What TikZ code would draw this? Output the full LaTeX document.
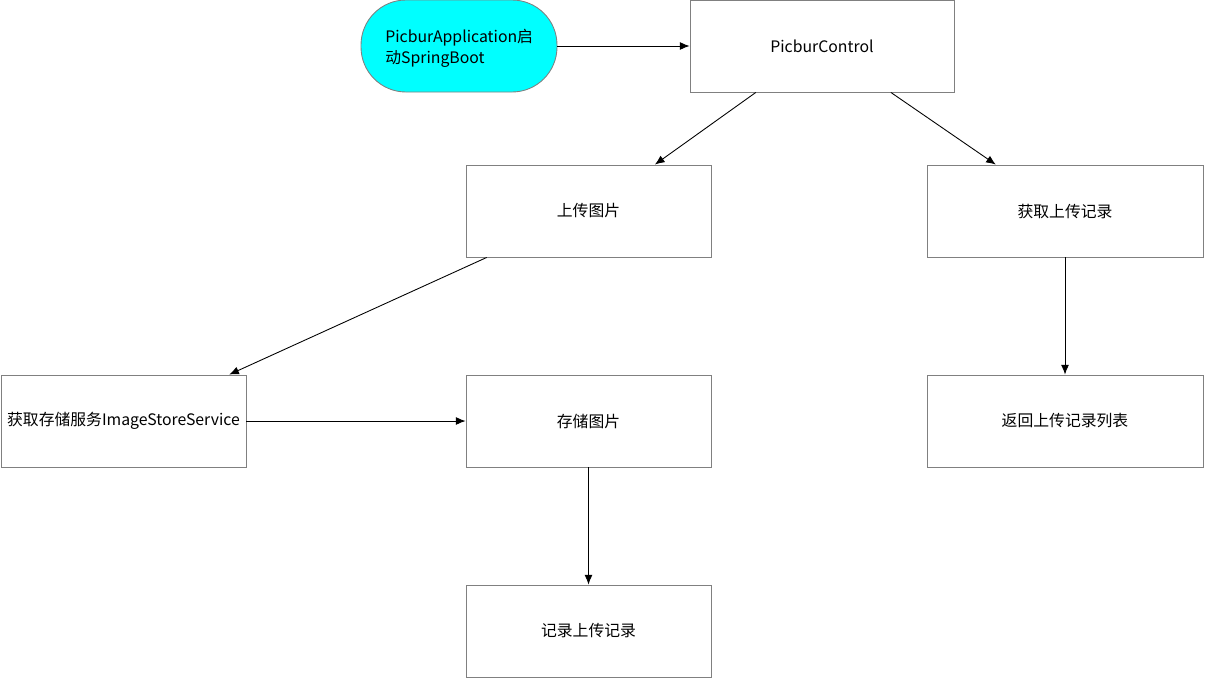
\documentclass[tikz,border=0pt]{standalone}
\usepackage{fontspec}
\setmainfont{Noto Sans CJK SC}
\usetikzlibrary{arrows.meta,calc}
\definecolor{startcyan}{RGB}{0,255,255}

\begin{document}
\begin{tikzpicture}[
    every node/.style={font=\fontsize{9}{12}\selectfont},
    box/.style={draw=black!50, line width=0.5pt, minimum width=4.9cm, minimum height=1.84cm, text centered, fill=white, inner sep=1pt},
    pill/.style={draw=black!50, line width=0.5pt, rounded corners=0.9cm, minimum width=3.92cm, minimum height=1.84cm, fill=startcyan},
    arr/.style={-{Latex[length=5.5pt,width=4.5pt]}, line width=0.5pt}
]
\useasboundingbox (0,0) rectangle (24.1,-13.56);

% Start
\node[pill] (app) at (9.18,-0.92) {};
\node[align=left, anchor=west, inner sep=0pt] (apptext) at (7.7,-0.97) {PicburApplication启\\动SpringBoot};

% Controller
\node[box, minimum width=5.28cm] (ctrl) at (16.44,-0.92) {PicburControl};

% Second row
\node[box] (upload) at (11.77,-4.22) {上传图片};
\node[box, minimum width=5.52cm] (getrec) at (21.3,-4.22) {获取上传记录};

% Third row
\node[box] (getsvc) at (2.47,-8.42) {获取存储服务ImageStoreService};
\node[box] (store) at (11.77,-8.42) {存储图片};
\node[box, minimum width=5.52cm] (list) at (21.3,-8.42) {返回上传记录列表};

% Last row
\node[box] (record) at (11.77,-12.62) {记录上传记录};

% Arrows
\draw[arr] (app) -- (ctrl);
\draw[arr] ($(ctrl.south west)!0.25!(ctrl.south east)$) -- ($(upload.north west)!0.77!(upload.north east)$);
\draw[arr] ($(ctrl.south west)!0.76!(ctrl.south east)$) -- ($(getrec.north west)!0.25!(getrec.north east)$);
\draw[arr] ($(upload.south west)!0.086!(upload.south east)$) -- ($(getsvc.north west)!0.93!(getsvc.north east)$);
\draw[arr] (getsvc) -- (store);
\draw[arr] (store) -- (record);
\draw[arr] (getrec) -- (list);
\end{tikzpicture}
\end{document}
